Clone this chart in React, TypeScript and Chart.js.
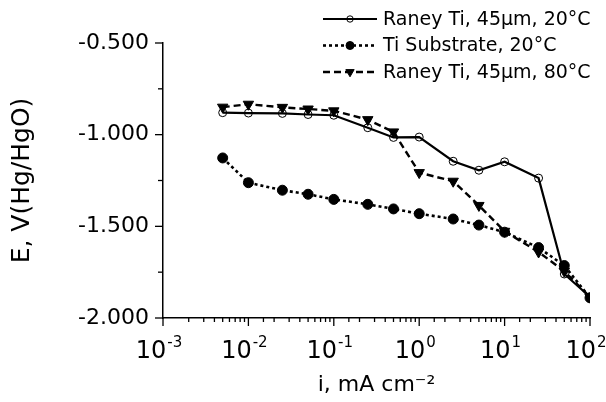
import React, { useEffect, useRef } from 'react';
import { Chart, registerables } from 'chart.js';

Chart.register(...registerables);

// current density, mA cm^-2
const currents = [0.005, 0.01, 0.025, 0.05, 0.1, 0.25, 0.5, 1, 2.5, 5, 10, 25, 50, 100];
// potential, V vs Hg/HgO
const raney20 = [-0.88, -0.882, -0.884, -0.89, -0.894, -0.962, -1.015, -1.013, -1.145, -1.194, -1.148, -1.237, -1.76, -1.885];
const substrate20 = [-1.127, -1.262, -1.303, -1.325, -1.353, -1.38, -1.405, -1.431, -1.46, -1.493, -1.532, -1.616, -1.714, -1.89];
const raney80 = [-0.85, -0.834, -0.851, -0.86, -0.87, -0.918, -0.985, -1.207, -1.254, -1.386, -1.527, -1.64, -1.745, -1.885];

const seriesLabels = ['Raney Ti, 45µm, 20°C', 'Ti Substrate, 20°C', 'Raney Ti, 45µm, 80°C'];

const xMin = 0.001;
const xMax = 100;
const yMin = -2.0;
const yMax = -0.5;
const yStep = 0.25;

const FONT = '"DejaVu Sans", "Liberation Sans", Arial, sans-serif';

const SUP: Record<string, string> = {
  '-': '\u207B', '0': '\u2070', '1': '\u00B9', '2': '\u00B2', '3': '\u00B3',
  '4': '\u2074', '5': '\u2075', '6': '\u2076', '7': '\u2077', '8': '\u2078', '9': '\u2079',
};
const sup = (s: string) => s.split('').map((c) => SUP[c] ?? c).join('');

const isDecade = (v: number) => {
  const l = Math.log10(v);
  return Math.abs(l - Math.round(l)) < 1e-9;
};
const isMajorY = (v: number) => Math.abs(v * 2 - Math.round(v * 2)) < 1e-9;

function drawMarker(ctx: CanvasRenderingContext2D, style: string, rotation: number, x: number, y: number, r: number, fill: string) {
  ctx.beginPath();
  if (style === 'triangle') {
    let rad = (rotation * Math.PI) / 180;
    ctx.moveTo(x + Math.sin(rad) * r, y - Math.cos(rad) * r);
    rad += (2 * Math.PI) / 3;
    ctx.lineTo(x + Math.sin(rad) * r, y - Math.cos(rad) * r);
    rad += (2 * Math.PI) / 3;
    ctx.lineTo(x + Math.sin(rad) * r, y - Math.cos(rad) * r);
    ctx.closePath();
  } else {
    ctx.arc(x, y, r, 0, Math.PI * 2);
  }
  if (fill && fill !== 'transparent') {
    ctx.fillStyle = fill;
    ctx.fill();
  }
  ctx.lineWidth = 1;
  ctx.strokeStyle = '#000';
  ctx.stroke();
}

// Tick marks of two lengths, and power-of-ten labels with raised exponents
const axisTicksPlugin = {
  id: 'axisTicks',
  afterDraw(chart: any) {
    const ctx: CanvasRenderingContext2D = chart.ctx;
    const xs = chart.scales.x;
    const ys = chart.scales.y;
    ctx.save();
    ctx.strokeStyle = '#000';
    ctx.lineWidth = 1.3;
    const ax = ys.right;
    ys.ticks.forEach((t: any) => {
      const py = ys.getPixelForValue(t.value);
      const len = isMajorY(t.value) ? 8 : 5;
      ctx.beginPath();
      ctx.moveTo(ax - len, py);
      ctx.lineTo(ax, py);
      ctx.stroke();
    });
    const ay = xs.top;
    xs.ticks.forEach((t: any) => {
      const px = xs.getPixelForValue(t.value);
      const len = isDecade(t.value) ? 8 : 4;
      ctx.beginPath();
      ctx.moveTo(px, ay);
      ctx.lineTo(px, ay + len);
      ctx.stroke();
    });
    ctx.fillStyle = '#000';
    ctx.textBaseline = 'alphabetic';
    ctx.textAlign = 'left';
    xs.ticks.forEach((t: any) => {
      if (!isDecade(t.value)) return;
      const exp = String(Math.round(Math.log10(t.value)));
      ctx.font = `24px ${FONT}`;
      const w1 = ctx.measureText('10').width;
      ctx.font = `15px ${FONT}`;
      const w2 = ctx.measureText(exp).width;
      const px = xs.getPixelForValue(t.value);
      const x0 = px - 4 - (w1 + w2 + 1) / 2;
      ctx.font = `24px ${FONT}`;
      ctx.fillText('10', x0, ay + 40);
      ctx.font = `15px ${FONT}`;
      ctx.fillText(exp, x0 + w1 + 1, ay + 29);
    });
    ctx.restore();
  },
};

const legendPlugin = {
  id: 'lineLegend',
  afterDraw(chart: any) {
    const ctx: CanvasRenderingContext2D = chart.ctx;
    const left = 323;
    const right = 377;
    const top = 19;
    const rowH = 26.5;
    chart.data.datasets.forEach((ds: any, i: number) => {
      const y = top + i * rowH;
      ctx.save();
      ctx.strokeStyle = '#000';
      ctx.lineWidth = ds.borderWidth;
      ctx.setLineDash(ds.borderDash || []);
      ctx.beginPath();
      ctx.moveTo(left, y);
      ctx.lineTo(right, y);
      ctx.stroke();
      ctx.setLineDash([]);
      drawMarker(ctx, ds.pointStyle, ds.pointRotation || 0, (left + right) / 2, y, ds.pointRadius * 0.8, ds.pointBackgroundColor);
      ctx.fillStyle = '#000';
      ctx.font = `19px ${FONT}`;
      ctx.textBaseline = 'middle';
      ctx.textAlign = 'left';
      ctx.fillText(ds.label, right + 6, y + 1);
      ctx.restore();
    });
  },
};

export default function App() {
  const canvasRef = useRef<HTMLCanvasElement | null>(null);

  useEffect(() => {
    document.body.style.margin = '0';
    const canvas = canvasRef.current;
    if (!canvas) return;
    const toPoints = (ys: number[]) => currents.map((x, i) => ({ x, y: ys[i] }));

    const chart = new Chart(canvas, {
      type: 'line',
      data: {
        datasets: [
          {
            label: seriesLabels[0],
            data: toPoints(raney20),
            borderColor: '#000',
            borderWidth: 2.2,
            pointStyle: 'circle',
            pointRadius: 4,
            pointBorderWidth: 1,
            pointBorderColor: '#000',
            pointBackgroundColor: 'transparent',
            tension: 0,
          } as any,
          {
            label: seriesLabels[1],
            data: toPoints(substrate20),
            borderColor: '#000',
            borderWidth: 2.6,
            borderDash: [3, 3],
            pointStyle: 'circle',
            pointRadius: 5,
            pointBorderWidth: 1,
            pointBorderColor: '#000',
            pointBackgroundColor: '#000',
            tension: 0,
          } as any,
          {
            label: seriesLabels[2],
            data: toPoints(raney80),
            borderColor: '#000',
            borderWidth: 2.4,
            borderDash: [7, 4],
            pointStyle: 'triangle',
            pointRotation: 180,
            pointRadius: 6,
            pointBorderWidth: 1,
            pointBorderColor: '#000',
            pointBackgroundColor: '#000',
            tension: 0,
          } as any,
        ],
      },
      options: {
        animation: false,
        responsive: false,
        maintainAspectRatio: false,
        events: [],
        layout: { padding: { top: 43, right: 16, left: 0, bottom: 0 } },
        plugins: {
          legend: { display: false },
          tooltip: { enabled: false },
          title: { display: false },
        },
        scales: {
          x: {
            type: 'logarithmic',
            min: xMin,
            max: xMax,
            grid: { display: false, drawTicks: false },
            border: { display: true, color: '#000', width: 1.5 },
            ticks: {
              autoSkip: false,
              maxRotation: 0,
              minRotation: 0,
              padding: 15,
              color: '#000',
              font: { family: FONT, size: 24 },
              callback: () => '',
            },
            title: {
              display: true,
              text: 'i, mA cm' + sup('-2'),
              color: '#000',
              font: { family: FONT, size: 22 },
              padding: { top: 0, bottom: 4 },
            },
            afterFit: (s: any) => {
              s.height = 402 - 318;
              s.paddingLeft = 0;
              s.paddingRight = 0;
            },
          },
          y: {
            type: 'linear',
            min: yMin,
            max: yMax,
            grid: { display: false, drawTicks: false },
            border: { display: true, color: '#000', width: 1.5 },
            ticks: {
              stepSize: yStep,
              autoSkip: false,
              padding: 14,
              color: '#000',
              font: { family: FONT, size: 22 },
              callback: (v: any) => {
                const n = Number(v);
                return isMajorY(n) ? n.toFixed(3) : '';
              },
            },
            title: {
              display: true,
              text: 'E, V(Hg/HgO)',
              color: '#000',
              font: { family: FONT, size: 25 },
              padding: { top: 7, bottom: 0 },
            },
            afterFit: (s: any) => {
              s.width = 163;
              s.paddingTop = 0;
              s.paddingBottom = 0;
            },
          },
        },
      },
      plugins: [axisTicksPlugin, legendPlugin],
    });

    return () => chart.destroy();
  }, []);

  return (
    <div style={{ width: 606, height: 402, position: 'relative', background: '#fff' }}>
      <canvas ref={canvasRef} width={606} height={402} style={{ display: 'block', width: 606, height: 402 }} />
    </div>
  );
}
